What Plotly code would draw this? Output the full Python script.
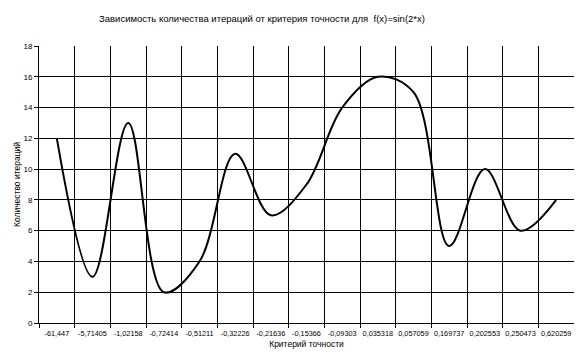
import plotly.graph_objects as go

categories = ["-61,447", "-5,71405", "-1,02158", "-0,72414", "-0,51211", "-0,32226",
              "-0,21636", "-0,15366", "-0,09303", "0,035318", "0,057059", "0,169737",
              "0,202553", "0,250473", "0,620259"]
iterations = [12, 3, 13, 2, 4, 11, 7, 9, 14, 16, 15, 5, 10, 6, 8]
y_ticks = list(range(0, 19, 2))
y_grid = list(range(2, 17, 2))

idx = list(range(len(categories)))
boundaries = [i - 0.5 for i in range(len(categories))]
font = "Liberation Sans, Arial, sans-serif"

fig = go.Figure()
fig.add_trace(go.Scatter(
    x=idx, y=iterations, mode="lines",
    line=dict(color="black", width=2, shape="spline", smoothing=1.0),
    showlegend=False, hoverinfo="skip",
))

fig.update_layout(
    width=583, height=362,
    margin=dict(l=39, r=9, t=46, b=39, autoexpand=False),
    paper_bgcolor="white", plot_bgcolor="white",
    font=dict(family=font, color="black", size=8),
    title=dict(text="Зависимость количества итераций от критерия точности для  f(x)=sin(2*x)",
               x=262 / 583, xanchor="center", y=1 - 19 / 362, yanchor="middle",
               font=dict(size=9.5, family=font, color="black")),
    xaxis=dict(
        range=[-0.5, len(categories) - 0.5], automargin=False,
        tickmode="array", tickvals=idx, ticktext=categories, tickangle=0,
        ticks="", showgrid=False, zeroline=False,
        showline=True, linecolor="black", linewidth=1,
        tickfont=dict(size=7.3), ticklabelstandoff=3,
        minor=dict(tickmode="array", tickvals=boundaries, ticks="outside",
                   ticklen=4, tickcolor="black", tickwidth=1,
                   showgrid=True, gridcolor="black", gridwidth=1),
        title=dict(text="Критерий точности", font=dict(size=8.5), standoff=4),
    ),
    yaxis=dict(
        range=[0, 18], automargin=False,
        tickmode="array", tickvals=y_ticks,
        ticks="outside", ticklen=4, tickcolor="black", tickwidth=1,
        showgrid=False, zeroline=False, showline=True, linecolor="black", linewidth=1,
        tickfont=dict(size=8),
        minor=dict(tickmode="array", tickvals=y_grid, ticks="",
                   showgrid=True, gridcolor="black", gridwidth=1),
        title=dict(text="Количество итераций", font=dict(size=8.5), standoff=1),
    ),
)

fig.write_html("out.html")
